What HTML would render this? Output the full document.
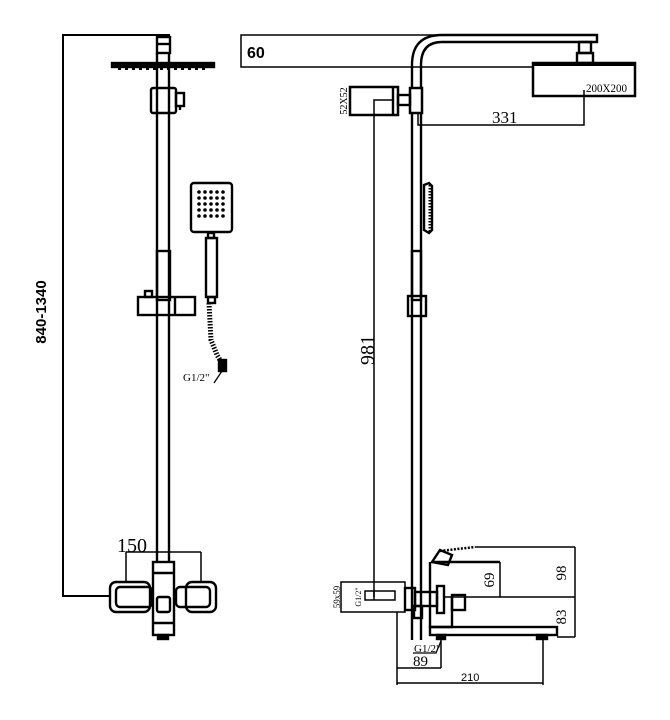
<!DOCTYPE html>
<html><head><meta charset="utf-8"><style>
html,body{margin:0;padding:0;background:#fff}
svg{display:block}
text{font-family:"Liberation Serif",serif;fill:#000}
</style></head><body>
<svg width="670" height="720" viewBox="0 0 670 720" xmlns="http://www.w3.org/2000/svg" fill="none" stroke="#000" stroke-width="2.4">
<!-- LEFT VIEW -->
<polyline points="170,35 63,35 63,596 110,596" stroke-width="2"/>
<text x="0" y="0" transform="translate(46,312) rotate(-90)" text-anchor="middle" style="font-family:'Liberation Sans',sans-serif;font-weight:bold;font-size:15px" stroke="none">840-1340</text>
<line x1="157" y1="53" x2="157" y2="562"/><line x1="169" y1="53" x2="169" y2="562"/>
<rect x="157" y="37" width="13" height="16"/>
<line x1="157" y1="44" x2="170" y2="44"/>
<rect x="112" y="63" width="102" height="4" fill="#000"/>
<line x1="118" y1="69" x2="208" y2="69" stroke-dasharray="3,4" stroke-width="2"/>
<rect x="151" y="88" width="25" height="25" rx="2"/>
<rect x="176" y="93" width="8" height="13"/>
<line x1="180" y1="106" x2="180" y2="110"/>
<rect x="157" y="251" width="13" height="49"/>
<rect x="138" y="297" width="57" height="18"/>
<line x1="175" y1="297" x2="175" y2="315"/>
<rect x="145" y="291" width="7" height="6"/>
<rect x="191" y="183" width="41" height="49" rx="3"/>
<g fill="#000" stroke="none">
<circle cx="199" cy="192" r="1.8"/><circle cx="205" cy="192" r="1.8"/><circle cx="211" cy="192" r="1.8"/><circle cx="217" cy="192" r="1.8"/><circle cx="223" cy="192" r="1.8"/>
<circle cx="199" cy="198" r="1.8"/><circle cx="205" cy="198" r="1.8"/><circle cx="211" cy="198" r="1.8"/><circle cx="217" cy="198" r="1.8"/><circle cx="223" cy="198" r="1.8"/>
<circle cx="199" cy="204" r="1.8"/><circle cx="205" cy="204" r="1.8"/><circle cx="211" cy="204" r="1.8"/><circle cx="217" cy="204" r="1.8"/><circle cx="223" cy="204" r="1.8"/>
<circle cx="199" cy="210" r="1.8"/><circle cx="205" cy="210" r="1.8"/><circle cx="211" cy="210" r="1.8"/><circle cx="217" cy="210" r="1.8"/><circle cx="223" cy="210" r="1.8"/>
<circle cx="199" cy="216" r="1.8"/><circle cx="205" cy="216" r="1.8"/><circle cx="211" cy="216" r="1.8"/><circle cx="217" cy="216" r="1.8"/><circle cx="223" cy="216" r="1.8"/>
</g>
<rect x="208" y="233" width="6" height="5"/>
<rect x="206" y="238" width="11" height="59"/>
<rect x="208" y="297" width="7" height="6"/>
<path d="M209,303 L211,340 L217,355 L220,360" stroke-width="5" stroke-dasharray="1.5,1.5"/>
<rect x="219" y="360" width="7" height="11" fill="#000"/>
<line x1="222" y1="371" x2="214" y2="383" stroke-width="1.3"/>
<text x="183" y="381" font-size="11" stroke="none">G1/2"</text>
<line x1="126" y1="582" x2="126" y2="552" stroke-width="1.5"/>
<line x1="126" y1="552" x2="201" y2="552" stroke-width="1.5"/>
<line x1="201" y1="552" x2="201" y2="582" stroke-width="1.5"/>
<text x="117" y="552" font-size="20" stroke="none">150</text>
<rect x="110" y="582" width="40" height="30" rx="6"/>
<rect x="116" y="587" width="36" height="20" rx="4"/>
<rect x="186" y="582" width="30" height="30" rx="6"/>
<rect x="176" y="587" width="34" height="20" rx="4"/>
<rect x="153" y="562" width="21" height="73" fill="#fff"/>
<line x1="153" y1="573" x2="174" y2="573"/>
<line x1="153" y1="623" x2="174" y2="623"/>
<rect x="157" y="597" width="13" height="15" rx="2"/>
<rect x="158" y="635" width="10" height="4" fill="#000"/>

<!-- RIGHT VIEW -->
<polyline points="440,35 241,35 241,67 532,67" stroke-width="1.5"/>
<text x="247" y="58" style="font-family:'Liberation Sans',sans-serif;font-weight:bold;font-size:16px" stroke="none">60</text>
<path d="M412,88 L412,65 Q412,35 442,35 L597,35 L597,42 L442,42 Q421,42 421,65 L421,88"/>
<line x1="412" y1="113" x2="412" y2="640"/><line x1="421" y1="113" x2="421" y2="640"/>
<rect x="579" y="42" width="12" height="11"/>
<rect x="577" y="53" width="16" height="10"/>
<rect x="533" y="63" width="102" height="33" stroke-width="2.5"/>
<line x1="533" y1="64" x2="635" y2="64" stroke-width="4"/>
<text x="586" y="92" font-size="12" textLength="41" lengthAdjust="spacingAndGlyphs" stroke="none">200X200</text>
<rect x="350" y="87" width="48" height="28" stroke-width="2.5"/>
<line x1="393" y1="87" x2="393" y2="115"/>
<rect x="398" y="95" width="12" height="10"/>
<rect x="410" y="88" width="12" height="25" stroke-width="2.5"/>
<text x="0" y="0" transform="translate(347,101) rotate(-90)" text-anchor="middle" font-size="10" stroke="none">52X52</text>
<polyline points="374,600 374,100 393,100" stroke-width="1.5"/>
<text x="0" y="0" transform="translate(374,350) rotate(-90)" text-anchor="middle" font-size="20" stroke="none">981</text>
<polyline points="418,113 418,125 584,125 584,90" stroke-width="1.5"/>
<text x="492" y="123" font-size="17" stroke="none">331</text>
<path d="M424,185 L429,183 L432,186 L432,230 L429,233 L424,230 Z"/>
<line x1="430" y1="185" x2="430" y2="232" stroke-width="3" stroke-dasharray="1.5,1.5"/>
<rect x="412" y="251" width="9" height="49"/>
<rect x="408" y="296" width="18" height="20"/>
<rect x="341" y="582" width="64" height="30" stroke-width="1.5"/>
<rect x="365" y="591" width="30" height="9" stroke-width="1.5"/>
<line x1="374" y1="591" x2="374" y2="597" stroke-width="1.5"/>
<text x="0" y="0" transform="translate(340,597) rotate(-90)" text-anchor="middle" font-size="9" stroke="none">59x59</text>
<text x="0" y="0" transform="translate(361,597) rotate(-90)" text-anchor="middle" font-size="8" stroke="none">G1/2"</text>
<rect x="405" y="588" width="10" height="22"/>
<rect x="415" y="592" width="22" height="14"/>
<rect x="414" y="606" width="8" height="12"/>
<rect x="437" y="586" width="7" height="27"/>
<rect x="452" y="595" width="13" height="15"/>
<path d="M430,562 L430,627 L452,627 L452,597"/>
<rect x="430" y="627" width="127" height="8"/>
<path d="M432,562 L440,550 L452,555 L448,565 Z"/>
<line x1="432" y1="562" x2="500" y2="562"/>
<line x1="500" y1="562" x2="500" y2="597" stroke-width="1.5"/>
<line x1="440" y1="551" x2="475" y2="547" stroke-width="2.5" stroke-dasharray="2,1.5"/>
<line x1="475" y1="547" x2="575" y2="547" stroke-width="1.5"/>
<line x1="444" y1="597" x2="575" y2="597" stroke-width="1.5"/>
<line x1="557" y1="637" x2="575" y2="637" stroke-width="1.5"/>
<line x1="575" y1="547" x2="575" y2="637" stroke-width="1.5"/>
<rect x="437" y="635" width="8" height="4" fill="#000"/>
<rect x="537" y="635" width="10" height="4" fill="#000"/>
<text x="0" y="0" transform="translate(566,573) rotate(-90)" text-anchor="middle" font-size="15" stroke="none">98</text>
<text x="0" y="0" transform="translate(494,580) rotate(-90)" text-anchor="middle" font-size="15" stroke="none">69</text>
<text x="0" y="0" transform="translate(566,617) rotate(-90)" text-anchor="middle" font-size="15" stroke="none">83</text>
<line x1="397" y1="612" x2="397" y2="685" stroke-width="1.5"/>
<line x1="441" y1="639" x2="441" y2="668" stroke-width="1.5"/>
<line x1="543" y1="639" x2="543" y2="685" stroke-width="1.5"/>
<line x1="397" y1="668" x2="441" y2="668" stroke-width="1.5"/>
<line x1="397" y1="683" x2="543" y2="683" stroke-width="1.5"/>
<text x="413" y="666" font-size="15" stroke="none">89</text>
<text x="461" y="681" font-size="11" style="font-family:'Liberation Sans',sans-serif" stroke="none">210</text>
<text x="414" y="652" font-size="11" stroke="none">G1/2"</text>
<polyline points="413,653 436,653 441,641" stroke-width="1.3"/>
</svg>
</body></html>
